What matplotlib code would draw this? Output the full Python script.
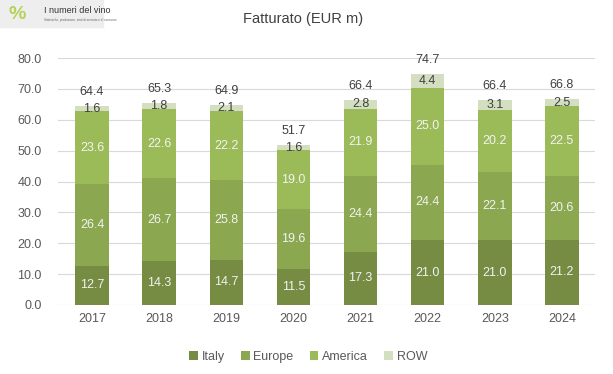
import numpy as np
import matplotlib
matplotlib.use("Agg")
import matplotlib.pyplot as plt

years = ["2017", "2018", "2019", "2020", "2021", "2022", "2023", "2024"]
italy = [12.7, 14.3, 14.7, 11.5, 17.3, 21.0, 21.0, 21.2]
europe = [26.4, 26.7, 25.8, 19.6, 24.4, 24.4, 22.1, 20.6]
america = [23.6, 22.6, 22.2, 19.0, 21.9, 25.0, 20.2, 22.5]
row = [1.6, 1.8, 2.1, 1.6, 2.8, 4.4, 3.1, 2.5]
totals = [64.4, 65.3, 64.9, 51.7, 66.4, 74.7, 66.4, 66.8]

series = [("Italy", italy, "#758c42"), ("Europe", europe, "#8ba74f"),
          ("America", america, "#9bbb59"), ("ROW", row, "#d3dfc0")]

plt.rcParams["font.family"] = ["Liberation Sans", "DejaVu Sans"]
fig = plt.figure(figsize=(6.13, 3.74), dpi=100)
ax = fig.add_axes([0.0954, 0.1845, 0.876, 0.6604])

x = np.arange(len(years))
bottom = np.zeros(len(years))
for name, vals, col in series:
    vals = np.array(vals)
    ax.bar(x, vals, 0.5, bottom=bottom, color=col, label=name, zorder=2)
    tc = "#404040" if name == "ROW" else "#f2f2f2"
    for xi, b, v in zip(x, bottom, vals):
        ax.text(xi, b + v / 2, f"{v:.1f}", ha="center", va="center",
                fontsize=9, color=tc, zorder=3)
    bottom += vals

for xi, b, t in zip(x, bottom, totals):
    ax.text(xi, b + 2.6, f"{t:.1f}", ha="center", va="bottom", fontsize=9, color="#404040")

ax.set_xlim(-0.5, len(years) - 0.5)
ax.set_ylim(0, 80)
ax.set_yticks(np.arange(0, 81, 10))
ax.set_yticklabels([f"{v:.1f}" for v in np.arange(0, 81, 10)])
ax.set_xticks(x)
ax.set_xticklabels(years)
ax.tick_params(length=0, labelsize=9, labelcolor="#595959")
ax.tick_params(axis="y", pad=12)
ax.tick_params(axis="x", pad=6)
ax.grid(axis="y", color="#d9d9d9", lw=0.8, zorder=0)
for s in ax.spines.values():
    s.set_visible(False)

fig.text(0.494, 0.95, "Fatturato (EUR m)", ha="center", va="center", fontsize=10.5, color="#404040")

# logo
fig.patches.append(plt.Rectangle((0, 0.928), 0.168, 0.072, transform=fig.transFigure,
                                 color="#eeeeee", zorder=0))
fig.text(0.072, 0.972, "I numeri del vino", fontsize=6.5, color="#333333", va="center")
fig.text(0.072, 0.947, "Statistiche, produzione, stati di mercato e di consumo", fontsize=2.2,
         color="#666666", va="center")
fig.text(0.028, 0.962, "%", fontsize=14, color="#b5d35a", va="center", ha="center", weight="bold")

ax.legend(loc="upper center", bbox_to_anchor=(0.465, -0.14), ncol=4, frameon=False,
          fontsize=9, handlelength=0.7, handleheight=0.7, handletextpad=0.3,
          columnspacing=1.3, labelcolor="#595959")

fig.savefig("out.png", dpi=100)
